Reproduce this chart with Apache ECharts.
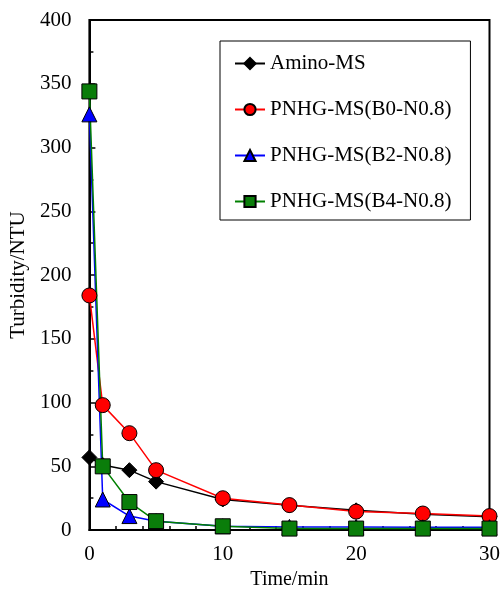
<!DOCTYPE html>
<html><head><meta charset="utf-8">
<script src="https://cdn.jsdelivr.net/npm/echarts@6/dist/echarts.min.js"></script>
<style>html,body{margin:0;padding:0;background:#fff}#c{width:503px;height:595px}</style>
</head><body><div id="c"></div>
<script>
const times = [0, 1, 3, 5, 10, 15, 20, 25, 30];
const seriesNames = ['Amino-MS', 'PNHG-MS(B0-N0.8)', 'PNHG-MS(B2-N0.8)', 'PNHG-MS(B4-N0.8)'];
const aminoMS = [57, 51, 47, 38, 24, 19.5, 15.5, 12.5, 10.5];
const b0 = [184, 98, 76, 47, 25, 19.6, 14.5, 13, 11];
const b2 = [326, 24, 11, 7, 3, 2.5, 2.5, 2.2, 2.2];
const b4 = [344, 50, 22, 7, 3, 1.2, 1.2, 1.2, 1.2];

const FONT = '"Liberation Serif","Times New Roman",serif';
const pair = arr => times.map((t, i) => [t, arr[i]]);

function mk(name, data, color, fill, symbol, size) {
  return {
    name, type: 'line', data: pair(data), symbol, symbolSize: size,
    lineStyle: { color, width: 1.5 },
    itemStyle: { color: fill, borderColor: '#000', borderWidth: 1 },
    emphasis: { disabled: true }, z: 2
  };
}

const chart = echarts.init(document.getElementById('c'), null, { renderer: 'canvas' });
chart.setOption({
  animation: false,
  backgroundColor: '#fff',
  grid: { left: 89, right: 13, top: 20, bottom: 64, show: true, borderColor: '#000', borderWidth: 2, backgroundColor: 'transparent' },
  legend: {
    orient: 'vertical', left: 220, top: 41,
    data: seriesNames,
    itemWidth: 30, itemHeight: 14, itemGap: 25,
    padding: [12, 19, 8, 14],
    borderColor: '#000', borderWidth: 1,
    textStyle: { fontFamily: FONT, fontSize: 21, color: '#000' },
    selectedMode: false
  },
  xAxis: {
    type: 'value', min: 0, max: 30, interval: 10,
    name: 'Time/min', nameLocation: 'middle', nameGap: 38,
    nameTextStyle: { fontFamily: FONT, fontSize: 20, color: '#000' },
    axisLine: { lineStyle: { color: '#000', width: 2 } },
    axisTick: { inside: true, length: 6, lineStyle: { color: '#000', width: 1.5 } },
    minorTick: { show: true, splitNumber: 5, length: 4, lineStyle: { color: '#000', width: 1.5 } },
    axisLabel: { fontFamily: FONT, fontSize: 21, color: '#000', margin: 14 },
    splitLine: { show: false }
  },
  yAxis: {
    type: 'value', min: 0, max: 400, interval: 50,
    name: 'Turbidity/NTU', nameLocation: 'middle', nameGap: 56,
    nameTextStyle: { fontFamily: FONT, fontSize: 21, color: '#000' },
    axisLine: { lineStyle: { color: '#000', width: 2 } },
    axisTick: { inside: true, length: 6, lineStyle: { color: '#000', width: 1.5 } },
    minorTick: { show: true, splitNumber: 2, length: 4, lineStyle: { color: '#000', width: 1.5 } },
    axisLabel: { fontFamily: FONT, fontSize: 21, color: '#000', margin: 18 },
    splitLine: { show: false }
  },
  series: [
    mk(seriesNames[0], aminoMS, '#000', '#000', 'diamond', 15),
    mk(seriesNames[1], b0, '#ff0000', '#ff0000', 'circle', 15),
    mk(seriesNames[2], b2, '#0000ff', '#0000ff', 'triangle', 15),
    mk(seriesNames[3], b4, '#008000', '#0a7d0a', 'rect', 15)
  ]
});
</script></body></html>
